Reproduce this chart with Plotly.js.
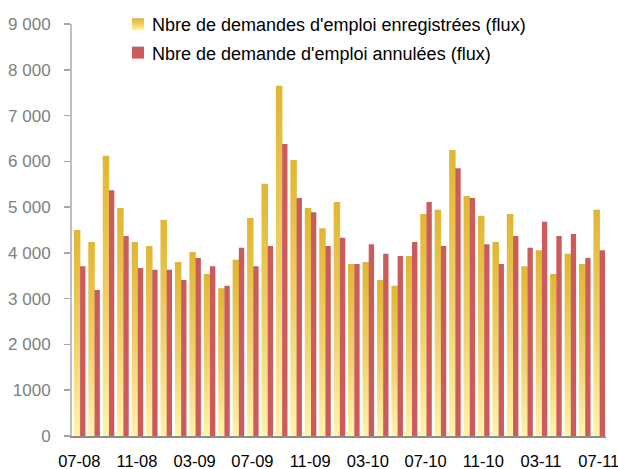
<!DOCTYPE html>
<html>
<head>
<meta charset="utf-8">
<script src="https://cdn.plot.ly/plotly-3.0.1.min.js"></script>
<style>
  html, body { margin: 0; padding: 0; background: #ffffff; }
  #chart { width: 618px; height: 469px; }
</style>
</head>
<body>
<div id="chart"></div>
<script>
// Months (MM-YY), July 2008 to July 2011
const months = [
  "07-08","08-08","09-08","10-08","11-08","12-08",
  "01-09","02-09","03-09","04-09","05-09","06-09",
  "07-09","08-09","09-09","10-09","11-09","12-09",
  "01-10","02-10","03-10","04-10","05-10","06-10",
  "07-10","08-10","09-10","10-10","11-10","12-10",
  "01-11","02-11","03-11","04-11","05-11","06-11",
  "07-11"
];

// Nbre de demandes d'emploi enregistrées (flux)
const enregistrees = [
  4500, 4240, 6120, 4980, 4240, 4150,
  4720, 3800, 4020, 3540, 3230, 3850,
  4760, 5510, 7650, 6030, 4980, 4540,
  5110, 3760, 3800, 3410, 3280, 3930,
  4850, 4940, 6250, 5240, 4810, 4240,
  4850, 3710, 4060, 3540, 3980, 3760,
  4940
];

// Nbre de demande d'emploi annulées (flux)
const annulees = [
  3710, 3190, 5370, 4370, 3670, 3630,
  3630, 3410, 3890, 3710, 3280, 4110,
  3710, 4150, 6380, 5200, 4890, 4150,
  4330, 3760, 4190, 3980, 3930, 4240,
  5110, 4150, 5850, 5200, 4190, 3760,
  4370, 4110, 4680, 4370, 4410, 3890,
  4060
];

// Labelled months on the x axis
const xLabels = ["07-08","11-08","03-09","07-09","11-09","03-10","07-10","11-10","03-11","07-11"];

// Y axis ticks
const yTickVals = [0, 1000, 2000, 3000, 4000, 5000, 6000, 7000, 8000, 9000];
const yTickText = ["0", "1000", "2 000", "3 000", "4 000", "5 000", "6 000", "7 000", "8 000", "9 000"];

const seriesNames = [
  "Nbre de demandes d'emploi enregistrées (flux)",
  "Nbre de demande d'emploi annulées (flux)"
];

// tick marks sit on the left boundary of each labelled month
const xTickVals = xLabels.map(l => months.indexOf(l) - 0.5);

const FONT = "Liberation Sans, Arial, sans-serif";

const traces = [
  {
    type: "bar",
    name: seriesNames[0],
    x: months,
    y: enregistrees,
    offset: -0.37,
    width: 0.45,
    marker: { color: "#E8C650", line: { width: 0 } },
    legendgroup: "a",
    hoverinfo: "x+y"
  },
  {
    type: "bar",
    name: seriesNames[1],
    x: months,
    y: annulees,
    offset: 0.06,
    width: 0.37,
    marker: { color: "#CC5C5C", line: { width: 0 } },
    legendgroup: "b",
    hoverinfo: "x+y"
  }
];

const layout = {
  width: 618,
  height: 469,
  margin: { l: 72, r: 12, t: 24, b: 33, autoexpand: false },
  paper_bgcolor: "#ffffff",
  plot_bgcolor: "#ffffff",
  barmode: "overlay",
  font: { family: FONT, size: 17, color: "#000000" },
  showlegend: true,
  legend: {
    x: (112 - 72) / 534,
    y: 1 + (24 - 6) / 412,
    xanchor: "left",
    yanchor: "top",
    bgcolor: "rgba(0,0,0,0)",
    borderwidth: 0,
    font: { family: FONT, size: 18, color: "#000000" },
    traceorder: "grouped",
    tracegroupgap: 2
  },
  xaxis: {
    type: "category",
    categoryorder: "array",
    categoryarray: months,
    range: [-0.5, months.length - 0.5],
    tickmode: "array",
    tickvals: xLabels,
    ticktext: xLabels,
    ticks: "",
    showline: true,
    linecolor: "#8c8c8c",
    linewidth: 2,
    showgrid: false,
    zeroline: false,
    ticklabelstandoff: 9,
    tickfont: { family: FONT, size: 16.5, color: "#000000" },
    automargin: false,
    fixedrange: true
  },
  xaxis2: {
    overlaying: "x",
    anchor: "y",
    side: "bottom",
    type: "linear",
    range: [-0.5, months.length - 0.5],
    tickmode: "array",
    tickvals: xTickVals,
    showticklabels: false,
    ticks: "outside",
    ticklen: 6,
    tickwidth: 1.5,
    tickcolor: "#808080",
    showline: false,
    showgrid: false,
    zeroline: false,
    automargin: false,
    fixedrange: true
  },
  yaxis: {
    range: [0, 9000],
    tickmode: "array",
    tickvals: yTickVals,
    ticktext: yTickText,
    ticks: "outside",
    ticklen: 6,
    tickwidth: 1.5,
    tickcolor: "#a6a6a6",
    showline: true,
    linecolor: "#bfbfbf",
    linewidth: 2,
    showgrid: false,
    zeroline: false,
    ticklabelstandoff: 10,
    tickfont: { family: FONT, size: 17, color: "#808080" },
    automargin: false,
    fixedrange: true
  }
};

Plotly.newPlot("chart", traces, layout, { displayModeBar: false, staticPlot: true }).then(function (gd) {
  // vertical golden gradient for the first series (per bar)
  const svgNS = "http://www.w3.org/2000/svg";
  const defs = gd.querySelector(".main-svg defs");
  const grad = document.createElementNS(svgNS, "linearGradient");
  grad.setAttribute("id", "ygrad");
  grad.setAttribute("x1", "0"); grad.setAttribute("y1", "0");
  grad.setAttribute("x2", "0"); grad.setAttribute("y2", "1");
  [["0", "#E1B630"], ["0.55", "#EFD26E"], ["1", "#FFF3AC"]].forEach(function (s) {
    const st = document.createElementNS(svgNS, "stop");
    st.setAttribute("offset", s[0]);
    st.setAttribute("stop-color", s[1]);
    grad.appendChild(st);
  });
  defs.appendChild(grad);
  const barTraces = gd.querySelectorAll(".barlayer .trace");
  if (barTraces.length) {
    barTraces[0].querySelectorAll("path").forEach(function (p) { p.style.fill = "url(#ygrad)"; });
  }
  const legTraces = gd.querySelectorAll(".legend .traces");
  legTraces.forEach(function (t, i) {
    const lp = t.querySelector(".legendpoints");
    if (lp) {
      const old = lp.getAttribute("transform") || "";
      lp.setAttribute("transform", old + " translate(6,0)");
      if (i === 0) {
        lp.querySelectorAll("path").forEach(function (p) { p.style.fill = "url(#ygrad)"; });
      }
    }
  });
});
</script>
</body>
</html>
